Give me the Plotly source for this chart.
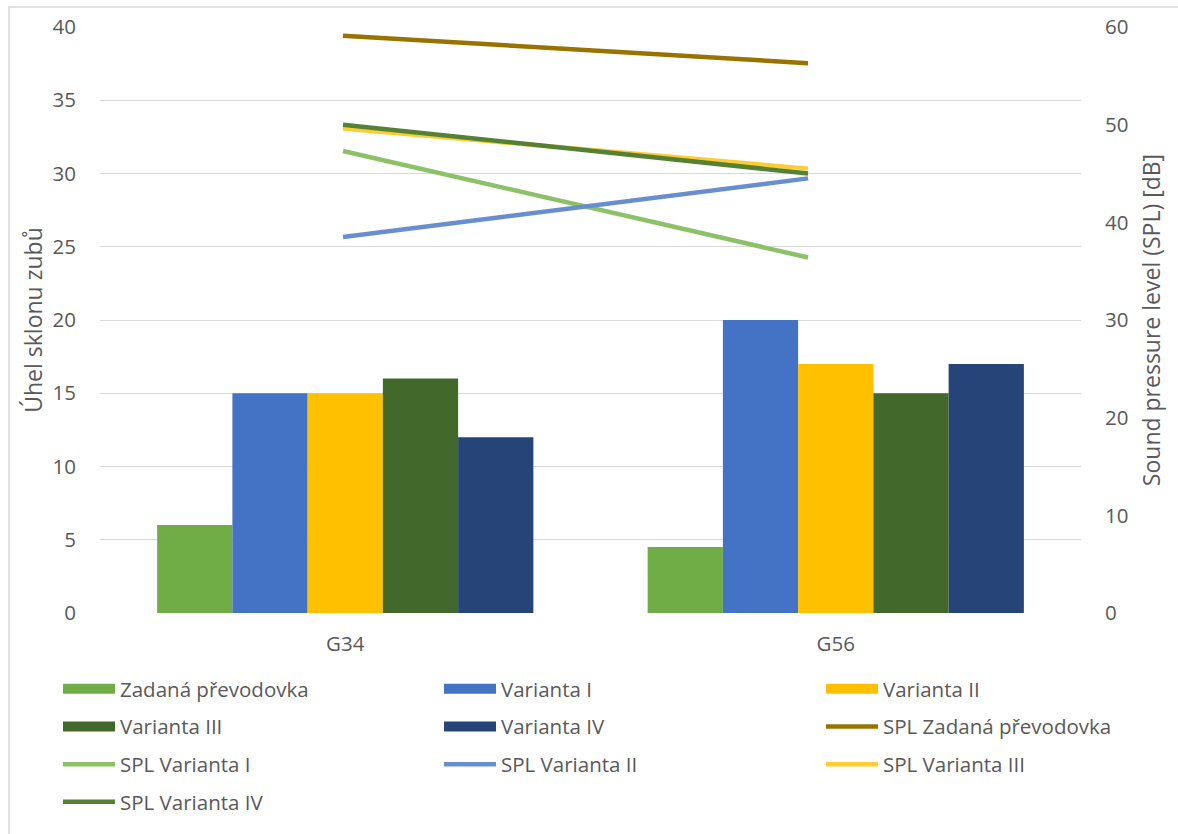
import plotly.graph_objects as go

categories = ["G34", "G56"]

bar_names = ["Zadaná převodovka", "Varianta I", "Varianta II", "Varianta III", "Varianta IV"]
angle_zadana = [6, 4.5]
angle_v1 = [15, 20]
angle_v2 = [15, 17]
angle_v3 = [16, 15]
angle_v4 = [12, 17]
bar_values = [angle_zadana, angle_v1, angle_v2, angle_v3, angle_v4]
bar_colors = ["#70AD47", "#4472C4", "#FFC000", "#43682B", "#264478"]

spl_names = ["SPL Zadaná převodovka", "SPL Varianta I", "SPL Varianta II",
             "SPL Varianta III", "SPL Varianta IV"]
spl_zadana = [59.1, 56.3]
spl_v1 = [47.3, 36.4]
spl_v2 = [38.5, 44.5]
spl_v3 = [49.6, 45.5]
spl_v4 = [50.0, 45.0]
spl_values = [spl_zadana, spl_v1, spl_v2, spl_v3, spl_v4]
spl_colors = ["#997300", "#8CC168", "#698ED0", "#FFCD33", "#548235"]

left_ticks = list(range(0, 41, 5))
right_ticks = list(range(0, 61, 10))

FONT = "Open Sans"
TXT = "#595959"
GRID = "#D9D9D9"
TICK_SIZE = 20.5
TITLE_SIZE = 23
LEG_SIZE = 20.5

# legend layout: items fill rows of 3 columns
legend_order = bar_names + spl_names
def legend_for(name):
    i = legend_order.index(name)
    col = i % 3
    return ["legend", "legend2", "legend3"][col]

fig = go.Figure()

for name, vals, col in zip(bar_names, bar_values, bar_colors):
    fig.add_trace(go.Bar(x=categories, y=vals, name=name, marker=dict(color=col, line=dict(width=0)),
                         showlegend=False, legendgroup=name))
    # legend proxy (wide rectangle like the reference)
    fig.add_trace(go.Scatter(x=[None], y=[None], mode="lines", name=name,
                             line=dict(color=col, width=14), legendgroup=name,
                             legend=legend_for(name), showlegend=True, hoverinfo="skip"))

for name, vals, col in zip(spl_names, spl_values, spl_colors):
    fig.add_trace(go.Scatter(x=categories, y=vals, name=name, mode="lines",
                             line=dict(color=col, width=4.5), xaxis="x2", yaxis="y2",
                             legendgroup=name, legend=legend_for(name)))

W, H = 1178, 834
L, R, T, B = 100, 1081, 27, 613
pw, ph = R - L, B - T

def px_x(x):
    return (x - L) / pw

def px_y(y):
    return (B - y) / ph

legend_common = dict(orientation="v", traceorder="grouped", tracegroupgap=8,
                     font=dict(family=FONT, size=LEG_SIZE, color=TXT),
                     bgcolor="rgba(0,0,0,0)", xanchor="left", yanchor="top",
                     itemwidth=52)

fig.update_layout(
    width=W, height=H,
    margin=dict(l=L, r=W - R, t=T, b=H - B, pad=0),
    paper_bgcolor="white", plot_bgcolor="white",
    font=dict(family=FONT, size=TICK_SIZE, color=TXT),
    barmode="group", bargap=0.233, bargroupgap=0,
    xaxis=dict(type="category", categoryorder="array", categoryarray=categories,
               showgrid=False, showline=False, zeroline=False,
               ticks="outside", ticklen=12, tickcolor="rgba(0,0,0,0)",
               tickfont=dict(family=FONT, size=TICK_SIZE, color=TXT)),
    xaxis2=dict(type="category", categoryorder="array", categoryarray=categories,
                overlaying="x", anchor="y", visible=False,
                range=[-0.5225, 1.587]),
    yaxis=dict(range=[0, 40], tickvals=left_ticks, showgrid=True, gridcolor=GRID,
               gridwidth=1, zeroline=False, showline=False,
               ticks="outside", ticklen=19, tickcolor="rgba(0,0,0,0)",
               tickfont=dict(family=FONT, size=TICK_SIZE, color=TXT),
               title=dict(text="Úhel sklonu zubů", font=dict(family=FONT, size=TITLE_SIZE, color=TXT),
                          standoff=3)),
    yaxis2=dict(range=[0, 60], tickvals=right_ticks, overlaying="y", side="right",
                anchor="x", showgrid=False, zeroline=False, showline=False,
                ticks="outside", ticklen=19, tickcolor="rgba(0,0,0,0)",
                tickfont=dict(family=FONT, size=TICK_SIZE, color=TXT),
                title=dict(text="Sound pressure level (SPL) [dB]",
                           font=dict(family=FONT, size=TITLE_SIZE, color=TXT), standoff=16)),
    legend=dict(**legend_common, x=px_x(58), y=px_y(669)),
    legend2=dict(**legend_common, x=px_x(439), y=px_y(669)),
    legend3=dict(**legend_common, x=px_x(821), y=px_y(669)),
    shapes=[dict(type="rect", xref="paper", yref="paper",
                 x0=px_x(9), x1=px_x(1300), y0=px_y(900), y1=px_y(7),
                 line=dict(color=GRID, width=1.5), fillcolor="rgba(0,0,0,0)", layer="below")],
)

fig.write_html("out.html")
